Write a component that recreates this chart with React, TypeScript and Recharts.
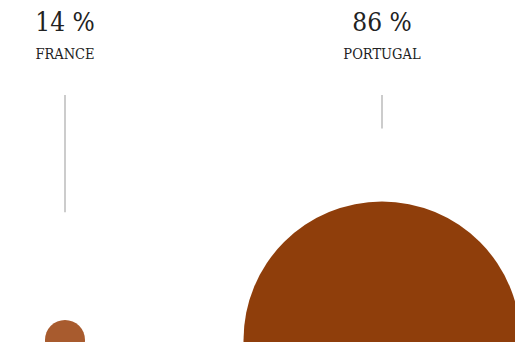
import { ScatterChart, Scatter, XAxis, YAxis, ZAxis, Cell } from "recharts";

const countries = ["FRANCE", "PORTUGAL"];
const shares = [14, 86];
const slots = [0, 1];
const colors = ["#A85B2E", "#8F3E0B"];

const data = countries.map((name, i) => ({
  name,
  value: shares[i],
  x: slots[i],
  y: 0,
}));

// circle + leader line + two-line label above
const BubbleShape = (props: any) => {
  const { cx, cy, width, fill, payload } = props;
  const r = width / 2;
  const lineTop = 95;
  const lineBottom = cy - r - (113.6 - 0.293 * r);
  return (
    <g>
      <text
        x={cx}
        y={31}
        textAnchor="middle"
        fontFamily="'DejaVu Serif Condensed', 'DejaVu Serif', serif"
        fontStretch="condensed"
        fontSize={26}
        fill="#222"
      >
        {`${payload.value} %`}
      </text>
      <text
        x={cx}
        y={59}
        textAnchor="middle"
        fontFamily="'DejaVu Serif Condensed', 'DejaVu Serif', serif"
        fontStretch="condensed"
        fontSize={14.5}
        fill="#222"
      >
        {payload.name}
      </text>
      <line
        x1={cx}
        x2={cx}
        y1={lineTop}
        y2={lineBottom}
        stroke="#bbb"
        strokeWidth={1.5}
      />
      <circle cx={cx} cy={cy} r={r} fill={fill} />
    </g>
  );
};

export default function App() {
  return (
    <div style={{ position: "absolute", left: 0, top: 0, background: "#fff" }}>
      <ScatterChart
        width={515}
        height={342}
        margin={{ top: 0, right: 133, bottom: 2, left: 65 }}
      >
        <XAxis type="number" dataKey="x" domain={[0, 1]} hide />
        <YAxis type="number" dataKey="y" domain={[0, 1]} hide />
        <ZAxis
          type="number"
          dataKey="value"
          domain={[14, 86]}
          range={[1257, 60264]}
        />
        <Scatter data={data} shape={<BubbleShape />} isAnimationActive={false}>
          {data.map((d, i) => (
            <Cell key={d.name} fill={colors[i]} />
          ))}
        </Scatter>
      </ScatterChart>
    </div>
  );
}
